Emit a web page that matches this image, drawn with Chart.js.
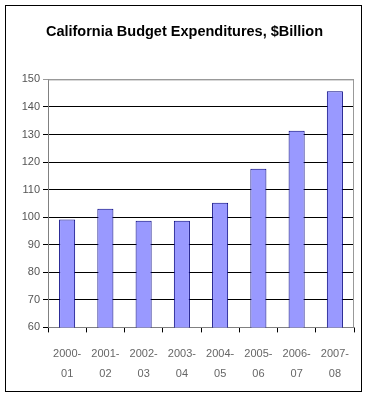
<!DOCTYPE html>
<html>
<head>
<meta charset="utf-8">
<script src="https://cdn.jsdelivr.net/npm/chart.js@4/dist/chart.umd.min.js"></script>
<style>
  html, body { margin: 0; padding: 0; background: #fff; }
  #wrap { position: relative; width: 369px; height: 400px; }
  #frame { position: absolute; left: 5px; top: 5px; width: 357px; height: 387px; border: 1.5px solid #000; box-sizing: border-box; pointer-events: none; }
  canvas { position: absolute; left: 0; top: 0; }
</style>
</head>
<body>
<div id="wrap">
  <canvas id="c" width="369" height="400"></canvas>
  <div id="frame"></div>
</div>
<script>
const chartTitle = 'California Budget Expenditures, $Billion';
const categories = [['2000-','01'],['2001-','02'],['2002-','03'],['2003-','04'],['2004-','05'],['2005-','06'],['2006-','07'],['2007-','08']];
const expenditures = [99.2, 103.1, 98.7, 98.7, 105.2, 117.6, 131.4, 145.7];
const yMin = 60, yMax = 150, yStep = 10;

new Chart(document.getElementById('c'), {
  type: 'bar',
  data: {
    labels: categories,
    datasets: [{
      data: expenditures,
      backgroundColor: '#9999ff',
      borderColor: '#000080',
      borderWidth: 1,
      barPercentage: 0.42,
      categoryPercentage: 1.0
    }]
  },
  options: {
    responsive: false,
    animation: false,
    devicePixelRatio: 1,
    layout: { padding: { left: 0, right: 0, top: 0, bottom: 4 } },
    plugins: {
      legend: { display: false },
      tooltip: { enabled: false },
      title: {
        display: true,
        text: chartTitle,
        color: '#000',
        font: { family: 'Liberation Sans, Arial, sans-serif', size: 14.5, weight: 'bold' },
        padding: { top: 23, bottom: 39 }
      }
    },
    scales: {
      x: {
        grid: { display: true, drawOnChartArea: false, drawTicks: true, tickLength: 5, color: '#000', offset: true },
        border: { display: true, color: '#808080', width: 1 },
        ticks: {
          color: '#666',
          font: { family: 'Liberation Sans, Arial, sans-serif', size: 11, lineHeight: 1.8 },
          padding: 12,
          maxRotation: 0,
          autoSkip: false
        }
      },
      y: {
        min: yMin, max: yMax,
        afterFit: (s) => { s.width = 48; },
        grid: { color: (ctx) => ctx.tick && ctx.tick.value === yMax ? '#999' : '#000', lineWidth: 1, tickLength: 5, drawTicks: true },
        border: { display: true, color: '#808080', width: 1 },
        ticks: {
          stepSize: yStep,
          color: '#555',
          padding: 3,
          font: { family: 'Liberation Sans, Arial, sans-serif', size: 11 }
        }
      },
      yRight: {
        position: 'right',
        min: yMin, max: yMax,
        afterFit: (s) => { s.width = 15; },
        grid: { drawOnChartArea: false, drawTicks: false },
        border: { display: false },
        ticks: { display: false }
      }
    }
  },
  plugins: [{
    id: 'plotFrame',
    afterDraw(chart) {
      const a = chart.chartArea, ctx = chart.ctx;
      ctx.save();
      ctx.strokeStyle = '#999';
      ctx.lineWidth = 1;
      ctx.beginPath();
      ctx.moveTo(a.left, a.top + 0.5);
      ctx.lineTo(a.right - 0.5, a.top + 0.5);
      ctx.lineTo(a.right - 0.5, a.bottom);
      ctx.stroke();
      ctx.restore();
    }
  }]
});
</script>
</body>
</html>
